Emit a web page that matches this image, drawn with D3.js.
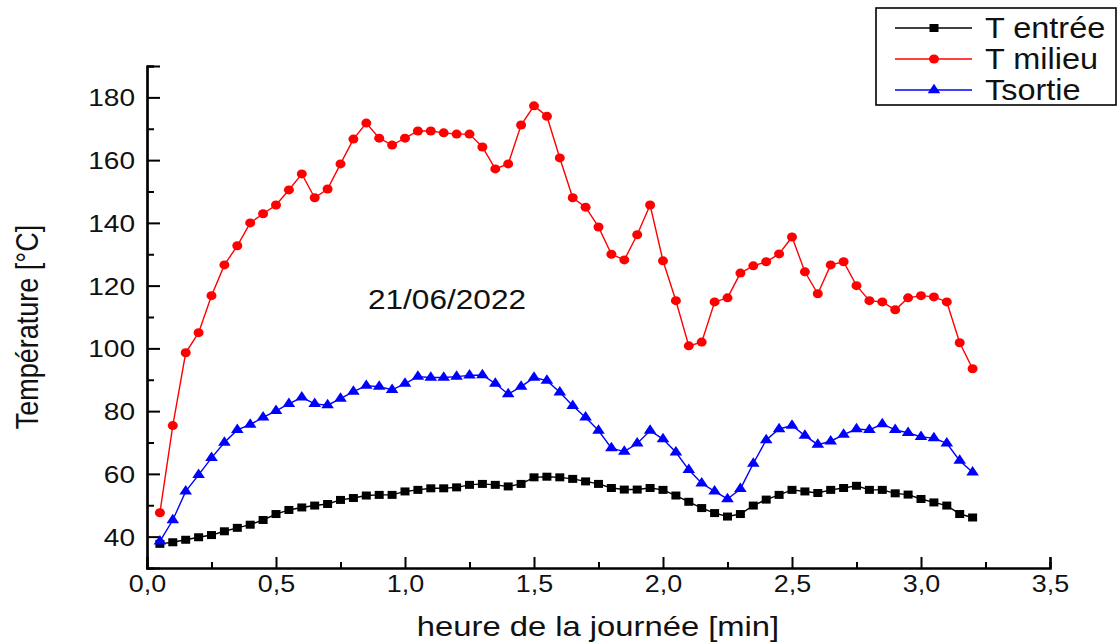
<!DOCTYPE html>
<html><head><meta charset="utf-8">
<script src="https://cdn.jsdelivr.net/npm/d3@7"></script>
<style>
html,body{margin:0;padding:0;background:#fff;}
svg{display:block;font-family:"Liberation Sans",Arial,sans-serif;}
</style></head>
<body><svg id="c" width="1118" height="644"></svg>
<script>
const times = [0.05,0.10,0.15,0.20,0.25,0.30,0.35,0.40,0.45,0.50,0.55,0.60,0.65,0.70,0.75,0.80,0.85,0.90,0.95,1.00,1.05,1.10,1.15,1.20,1.25,1.30,1.35,1.40,1.45,1.50,1.55,1.60,1.65,1.70,1.75,1.80,1.85,1.90,1.95,2.00,2.05,2.10,2.15,2.20,2.25,2.30,2.35,2.40,2.45,2.50,2.55,2.60,2.65,2.70,2.75,2.80,2.85,2.90,2.95,3.00,3.05,3.10,3.15,3.20];
const tEntree = [37.7,38.2,39.0,39.8,40.5,41.7,42.8,43.8,45.3,47.2,48.5,49.3,49.9,50.4,51.7,52.3,53.1,53.3,53.3,54.4,54.9,55.4,55.4,55.7,56.5,56.8,56.5,56.0,56.8,58.9,59.1,58.9,58.4,57.6,56.8,55.5,55.0,55.0,55.5,54.9,53.1,51.1,49.1,47.5,46.4,47.2,49.9,51.8,53.3,54.9,54.4,53.9,54.9,55.5,56.2,54.9,54.9,53.8,53.4,52.0,50.9,49.9,47.2,46.1];
const tMilieu = [47.6,75.4,98.6,105,116.8,126.6,132.7,140,142.9,145.7,150.5,155.6,148,150.8,158.8,166.7,171.8,167,164.8,167,169.3,169.3,168.7,168.3,168.3,164.2,157.2,158.8,171.2,177.3,174,160.7,148,145,138.7,130,128.2,136.2,145.7,127.9,115.2,100.8,102,114.8,116.1,124,126.3,127.6,130.1,135.5,124.4,117.4,126.6,127.6,120,115.2,114.8,112.3,116.1,116.8,116.4,114.8,101.8,93.5];
const tSortie = [38.5,45.3,54.4,59.7,65.1,70,74,75.7,78,80.1,82.3,84.4,82.3,81.9,84,86.2,88.1,87.8,86.8,88.8,91,90.7,90.7,91,91.4,91.5,88.8,85.4,87.8,90.7,89.7,86,81.7,78,73.8,68.2,67.1,69.7,73.8,71.1,66.9,61.3,57,54.4,52,55.2,63.3,70.8,74.3,75.4,72.2,69.3,70.4,72.5,74.3,74,75.9,74,73.1,71.8,71.4,69.7,64.2,60.5];
const seriesNames = ["T entrée","T milieu","Tsortie"];
const xTicks = [0,0.5,1.0,1.5,2.0,2.5,3.0,3.5];
const yTicks = [40,60,80,100,120,140,160,180];
const xTitle = "heure de la journée [min]";
const yTitle = "Température [°C]";
const annotation = "21/06/2022";

const SX = 1.17;
const svg = d3.select("#c");
const x = d3.scaleLinear().domain([0,3.5]).range([147,1050]);
const y = d3.scaleLinear().domain([30,190]).range([568,66]);
const fmt = d => d3.format(".1f")(d).replace(".", ",");

// minor ticks
const gx = svg.append("g").attr("transform","translate(0,568)");
gx.call(d3.axisBottom(x).tickValues(d3.range(0.25,3.5,0.5)).tickSize(-6).tickFormat(""));
const gx2 = svg.append("g").attr("transform","translate(0,568)");
gx2.call(d3.axisBottom(x).tickValues(xTicks).tickSize(-11).tickFormat(fmt));
const gy = svg.append("g").attr("transform","translate(147,0)");
gy.call(d3.axisLeft(y).tickValues(d3.range(50,200,20)).tickSize(-7).tickFormat(""));
const gy2 = svg.append("g").attr("transform","translate(147,0)");
gy2.call(d3.axisLeft(y).tickValues(yTicks).tickSize(-13));
[gx,gx2,gy,gy2].forEach(g=>{
  g.selectAll(".domain").attr("stroke","#000").attr("stroke-width",2.2);
  g.selectAll(".tick line").attr("stroke","#000").attr("stroke-width",2);
  g.selectAll(".tick text").attr("fill","#111").attr("font-size",23).attr("font-family","Liberation Sans, Arial, sans-serif");
});
gx2.selectAll(".tick text").attr("dy",null).attr("y",24).attr("transform","scale("+SX+",1)");
gy2.selectAll(".tick text").attr("font-size",24).attr("dy","0.35em").attr("transform","scale("+SX+",1)").attr("x",-12/SX);

const cols = ["#000000","#ff0000","#0000ff"];
const allSeries = [tEntree,tMilieu,tSortie];
const line = d3.line().x((d,i)=>x(times[i])).y(d=>y(d));
allSeries.forEach((s,k)=>{
  svg.append("path").datum(s).attr("d",line).attr("fill","none").attr("stroke",cols[k]).attr("stroke-width",1.4);
});
function marker(g,k,cx,cy){
  if(k===0){
    g.append("rect").attr("x",cx-4.5).attr("y",cy-4).attr("width",9).attr("height",8).attr("fill",cols[0]);
  } else if(k===1){
    g.append("ellipse").attr("cx",cx).attr("cy",cy).attr("rx",5).attr("ry",4.5).attr("fill",cols[1]);
  } else {
    g.append("path").attr("d",d3.symbol().type(d3.symbolTriangle).size(52)()).attr("transform","translate("+cx+","+cy+") scale(1.15,1)").attr("fill",cols[2]);
  }
}
allSeries.forEach((s,k)=>{
  const g = svg.append("g");
  s.forEach((v,i)=>marker(g,k,x(times[i]),y(v)));
});

// annotation
svg.append("text").attr("transform","translate(447,309) scale("+SX+",1)").attr("text-anchor","middle")
  .attr("font-size",27).attr("fill","#111").text(annotation);
// axis titles
svg.append("text").attr("transform","translate(598,636) scale("+SX+",1)").attr("text-anchor","middle")
  .attr("font-size",28).attr("fill","#111").text(xTitle);
svg.append("text").attr("transform","translate(38,327) scale("+SX+",1) rotate(-90)").attr("text-anchor","middle")
  .attr("font-size",27).attr("fill","#111").text(yTitle);

// legend
const lg = svg.append("g");
lg.append("rect").attr("x",876).attr("y",8).attr("width",240).attr("height",97).attr("fill","#fff").attr("stroke","#000").attr("stroke-width",1.6);
seriesNames.forEach((n,k)=>{
  const yy = [28,59,90][k];
  lg.append("line").attr("x1",895).attr("x2",972).attr("y1",yy).attr("y2",yy).attr("stroke",cols[k]).attr("stroke-width",1.5);
  marker(lg,k,934,yy);
  lg.append("text").attr("transform","translate(985,"+(yy+10)+") scale(1.12,1)").attr("font-size",29).attr("fill","#111").text(n);
});
</script></body></html>
